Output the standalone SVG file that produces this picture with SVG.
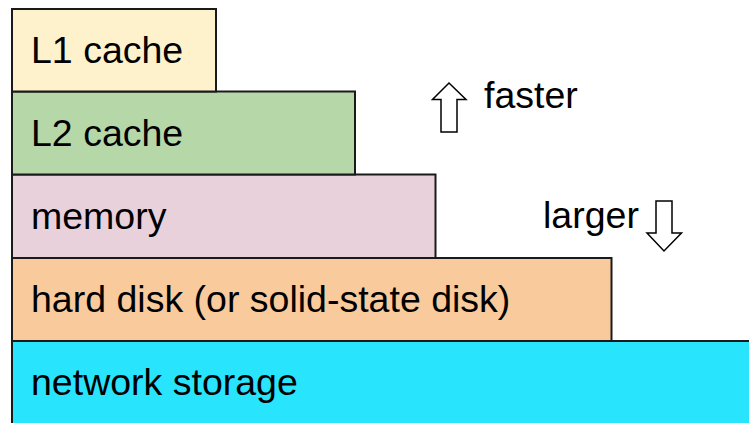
<svg xmlns="http://www.w3.org/2000/svg" width="749" height="423" viewBox="0 0 749 423">
  <style>
    .tier { stroke: #1a1a1a; stroke-width: 2; }
    .label { font-family: "Liberation Sans", Arial, sans-serif; font-size: 37.5px; fill: #000; }
    .arrow { fill: #fff; stroke: #000; stroke-width: 1.5; stroke-linejoin: miter; }
  </style>
  <rect width="749" height="423" fill="#fff"/>

  <!-- storage hierarchy tiers, widest at the bottom -->
  <g id="network-storage">
    <rect class="tier" x="12" y="341" width="750" height="95" fill="#28e4fd"/>
    <text class="label" x="31" y="395">network storage</text>
  </g>
  <g id="hard-disk">
    <rect class="tier" x="12" y="258" width="599.5" height="83" fill="#f8ca9c"/>
    <text class="label" x="31" y="312">hard disk (or solid-state disk)</text>
  </g>
  <g id="memory">
    <rect class="tier" x="12" y="174.5" width="423.5" height="83.5" fill="#e9d1dc"/>
    <text class="label" x="31" y="229">memory</text>
  </g>
  <g id="l2-cache">
    <rect class="tier" x="12" y="91.5" width="343" height="83" fill="#b6d7a8"/>
    <text class="label" x="31" y="146">L2 cache</text>
  </g>
  <g id="l1-cache">
    <rect class="tier" x="12" y="9" width="204" height="82.5" fill="#fef2cd"/>
    <text class="label" x="31" y="63">L1 cache</text>
  </g>

  <!-- direction indicators -->
  <g id="faster">
    <polygon class="arrow" points="449,83 466,99.5 457,99.5 457,132 441,132 441,99.5 432.5,99.5"/>
    <text class="label" x="484" y="108">faster</text>
  </g>
  <g id="larger">
    <polygon class="arrow" points="656,201 672,201 672,233 681.5,233 664,251 647,233 656,233"/>
    <text class="label" x="543" y="228">larger</text>
  </g>
</svg>
